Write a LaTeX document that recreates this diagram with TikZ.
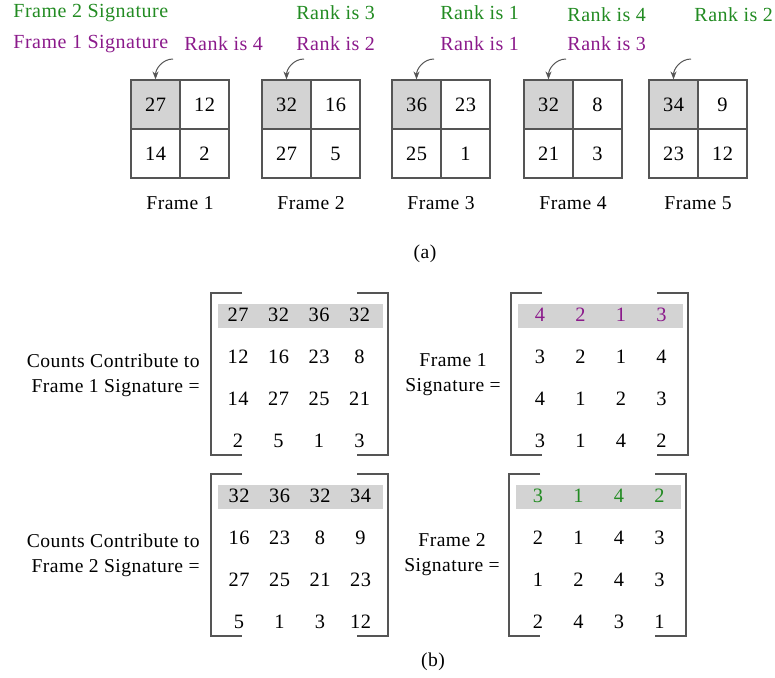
\documentclass[tikz,border=0pt]{standalone}
\usepackage{fontspec}
\setmainfont{Liberation Serif}[LetterSpace=2.5]
\usetikzlibrary{arrows.meta}

\definecolor{siggreen}{RGB}{34,139,34}
\definecolor{sigpurple}{RGB}{139,26,139}
\definecolor{cellgray}{RGB}{211,211,211}
\definecolor{edge}{RGB}{85,85,85}

\tikzset{
  cell/.style={draw=edge, line width=0.6pt, minimum size=24.5pt, inner sep=0pt,
    font=\fontsize{10.2}{12}\selectfont},
  entry/.style={inner sep=0pt, font=\fontsize{10.2}{12}\selectfont},
  caption/.style={inner sep=0pt, font=\fontsize{9.8}{12.5}\selectfont},
  rank/.style={anchor=west, inner sep=0pt, font=\fontsize{10}{12}\selectfont},
  pointer/.style={-{Stealth[length=4pt,width=3pt]}, draw=edge, line width=0.5pt},
  brack/.style={draw=edge, line width=0.6pt}
}

% #1 name, #2 left x, #3 top y, #4 first column x, #5 top row colour, #6 rows
\newcommand{\sigmatrix}[6]{%
  \fill[cellgray] (#2+7,#3+11) rectangle (#2+172,#3+35);
  \draw[brack] (#2+31,#3) -| (#2,#3+162) -- ++(31,0);
  \draw[brack] (#2+146,#3) -| (#2+177,#3+162) -- ++(-31,0);
  \foreach \row [count=\r] in {#6} {
    \ifnum\r=1 \def\tc{#5}\else\def\tc{black}\fi
    \foreach \v [count=\c] in \row {
      \node[entry, text=\tc] (#1-\r-\c) at (#4+40.5*\c-40.5, #3+22+42*\r-42) {\v};
    }
  }
}

\begin{document}
\begin{tikzpicture}[x=0.5pt, y=-0.5pt]
  \useasboundingbox (0,0) rectangle (775,677);

  % (a) the five frames
  \foreach \i/\x/\a/\b/\c/\d in {1/131/27/12/14/2, 2/262/32/16/27/5,
      3/392/36/23/25/1, 4/524/32/8/21/3, 5/649/34/9/23/12} {
    \node[cell, fill=cellgray] (f\i a) at (\x+24.5,104.5) {\a};
    \node[cell] (f\i b) at (\x+73.5,104.5) {\b};
    \node[cell] (f\i c) at (\x+24.5,153.5) {\c};
    \node[cell] (f\i d) at (\x+73.5,153.5) {\d};
    \node[caption] (f\i cap) at (\x+49,203) {Frame \i};
    \coordinate (f\i src) at (\x+42,59);
    \draw[pointer] (f\i src) to[out=180, in=90] (f\i a.north);
  }

  % signature and rank labels
  \node[rank, text=siggreen] (sig2) at (13,13) {Frame 2 Signature};
  \node[rank, text=sigpurple] (sig1) at (13,44) {Frame 1 Signature};
  \node[rank, text=sigpurple] (r11) at (184,44) {Rank is 4};
  \node[rank, text=siggreen] (r22) at (296,13) {Rank is 3};
  \node[rank, text=sigpurple] (r12) at (296,44) {Rank is 2};
  \node[rank, text=siggreen] (r23) at (440,13) {Rank is 1};
  \node[rank, text=sigpurple] (r13) at (440,44) {Rank is 1};
  \node[rank, text=siggreen] (r24) at (567,15) {Rank is 4};
  \node[rank, text=sigpurple] (r14) at (567,44) {Rank is 3};
  \node[rank, text=siggreen] (r25) at (694,15) {Rank is 2};

  \node[caption] (tagA) at (425,254) {(a)};

  % (b) the matrices
  \node[caption, anchor=east, align=right] (cnt1) at (200,375)
    {Counts Contribute to\\Frame 1 Signature =};
  \sigmatrix{cm1}{211}{293}{238}{black}{{27,32,36,32},{12,16,23,8},{14,27,25,21},{2,5,1,3}}
  \node[caption, align=center] (sg1) at (453,375) {Frame 1\\Signature =};
  \sigmatrix{sm1}{511}{293}{540}{sigpurple}{{4,2,1,3},{3,2,1,4},{4,1,2,3},{3,1,4,2}}

  \node[caption, anchor=east, align=right] (cnt2) at (200,555)
    {Counts Contribute to\\Frame 2 Signature =};
  \sigmatrix{cm2}{211}{474}{239}{black}{{32,36,32,34},{16,23,8,9},{27,25,21,23},{5,1,3,12}}
  \node[caption, align=center] (sg2) at (452,555) {Frame 2\\Signature =};
  \sigmatrix{sm2}{509}{474}{538}{siggreen}{{3,1,4,2},{2,1,4,3},{1,2,4,3},{2,4,3,1}}

  \node[caption] (tagB) at (433,662) {(b)};
\end{tikzpicture}
\end{document}
